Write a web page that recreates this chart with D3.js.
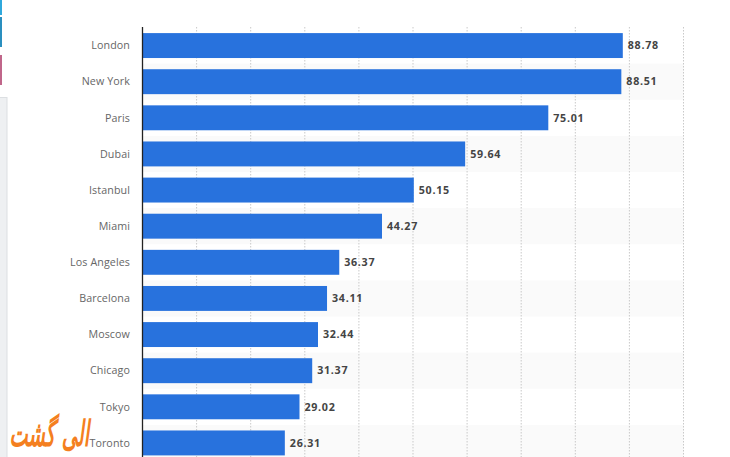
<!DOCTYPE html>
<html><head><meta charset="utf-8">
<script src="https://cdn.jsdelivr.net/npm/d3@7"></script>
<style>html,body{margin:0;padding:0;background:#fff;overflow:hidden}svg{display:block}</style>
</head><body><svg id="c" width="730" height="457"></svg>
<script>
const categories=["London","New York","Paris","Dubai","Istanbul","Miami","Los Angeles","Barcelona","Moscow","Chicago","Tokyo","Toronto"];
const values=[88.78,88.51,75.01,59.64,50.15,44.27,36.37,34.11,32.44,31.37,29.02,26.31];
const gridTicks=[10,20,30,40,50,60,70,80,90,100];
const watermark="الی گشت";
const svg=d3.select("#c");
const x=d3.scaleLinear().domain([0,100]).range([142.5,683.5]);
const y=d3.scaleBand().domain(categories).range([27.5,461]).paddingInner(0.31).paddingOuter(0.155);
const step=y.step();
svg.append("rect").attr("x",0).attr("y",0).attr("width",2).attr("height",15).attr("fill","#2fa8dc");
svg.append("rect").attr("x",0).attr("y",17).attr("width",2).attr("height",30).attr("fill","#2a8fbf");
svg.append("rect").attr("x",0).attr("y",55).attr("width",2).attr("height",30).attr("fill","#c0668a");
svg.append("rect").attr("x",-2).attr("y",97.5).attr("width",9).attr("height",370).attr("fill","#eef0f2").attr("stroke","#dcdfe2");
svg.append("g").selectAll("rect").data(categories.filter((d,i)=>i%2===1)).join("rect")
 .attr("x",x(0)).attr("width",x(100)-x(0))
 .attr("y",d=>y(d)+y.bandwidth()/2-step/2).attr("height",step).attr("fill","#fafafa");
svg.append("g").selectAll("line").data(gridTicks).join("line")
 .attr("x1",d=>x(d)).attr("x2",d=>x(d)).attr("y1",27).attr("y2",457)
 .attr("stroke","#c9c9c9").attr("stroke-width",1).attr("stroke-dasharray","1.5,1.5");
svg.append("g").selectAll("rect").data(values).join("rect")
 .attr("x",x(0)).attr("y",(d,i)=>y(categories[i]))
 .attr("width",d=>x(d)-x(0)).attr("height",y.bandwidth()).attr("fill","#2872dd");
svg.append("line").attr("x1",x(0)).attr("x2",x(0)).attr("y1",27).attr("y2",457).attr("stroke","#222").attr("stroke-width",1.3);
svg.append("g").selectAll("text").data(categories).join("text")
 .attr("x",130).attr("y",d=>y(d)+y.bandwidth()/2).attr("dy","0.35em").attr("text-anchor","end")
 .attr("font-family","'Open Sans',sans-serif").attr("font-size",10.7).attr("letter-spacing",0.1).attr("fill","#666").text(d=>d);
svg.append("g").selectAll("text").data(values).join("text")
 .attr("x",d=>x(d)+5).attr("y",(d,i)=>y(categories[i])+y.bandwidth()/2).attr("dy","0.35em")
 .attr("font-family","'Open Sans',sans-serif").attr("font-weight",700).attr("font-size",10.7).attr("letter-spacing",0.7).attr("fill","#444")
 .text(d=>d.toFixed(2));
svg.append("text").attr("transform","translate(89,446) scale(0.92,1.7)").attr("text-anchor","start").attr("direction","rtl")
 .attr("font-family","'DejaVu Sans',sans-serif").attr("font-style","italic").attr("font-weight",700).attr("font-size",21).attr("fill","#f47f20").text(watermark);
</script></body></html>
